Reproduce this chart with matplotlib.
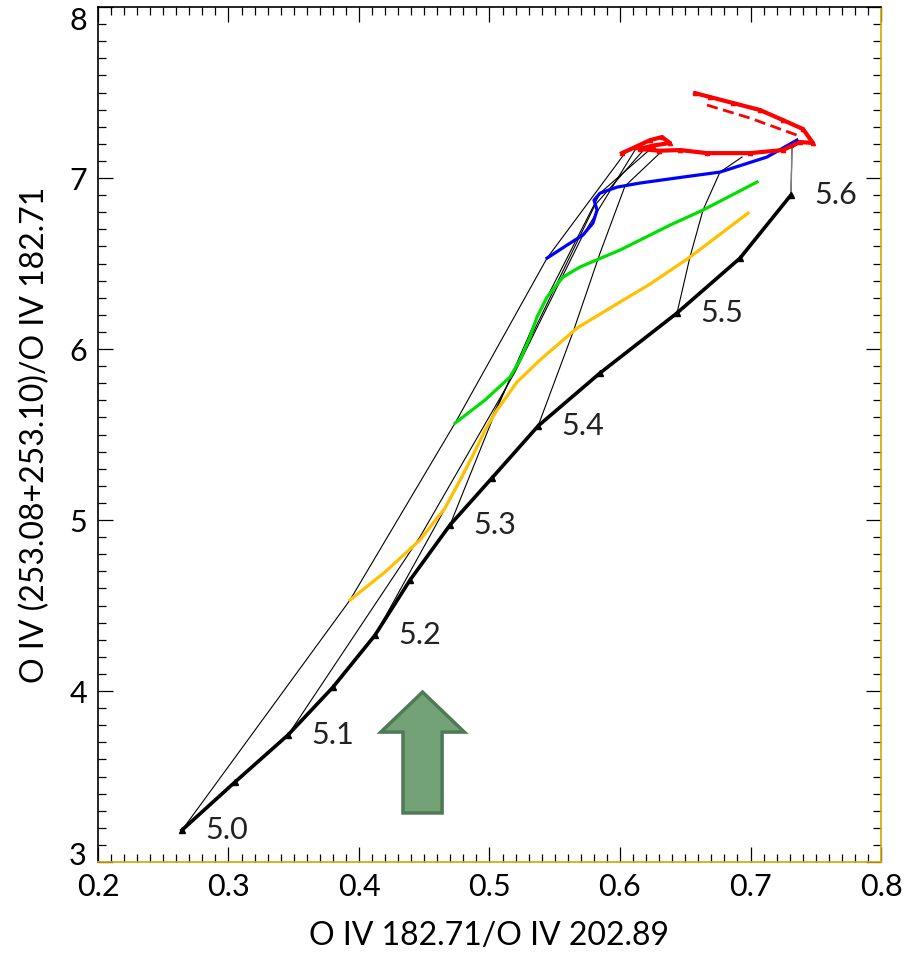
import matplotlib
matplotlib.use("Agg")
import matplotlib.pyplot as plt
from matplotlib.patches import FancyArrow
from matplotlib.ticker import MultipleLocator
from matplotlib.transforms import ScaledTranslation

plt.rcParams["font.family"] = ["Lato", "DejaVu Sans"]

# log T labels along the black track
temp_labels = ["5.0", "5.1", "5.2", "5.3", "5.4", "5.5", "5.6"]

# black track (every 0.05 in log T)
black_x = [0.2644, 0.3050, 0.3456, 0.3801, 0.4123, 0.4391, 0.4697,
           0.5019, 0.5372, 0.5847, 0.6437, 0.6920, 0.7310]
black_y = [3.187, 3.468, 3.743, 4.023, 4.327, 4.649, 4.971,
           5.246, 5.550, 5.860, 6.211, 6.532, 6.901]

yellow_x = [0.3931, 0.4199, 0.4467, 0.4659, 0.4774, 0.4874, 0.4966, 0.5057,
            0.5211, 0.5387, 0.5671, 0.6000, 0.6230, 0.6536, 0.6981]
yellow_y = [4.532, 4.696, 4.883, 5.070, 5.234, 5.380, 5.526, 5.643,
            5.807, 5.936, 6.123, 6.275, 6.380, 6.538, 6.795]

green_x = [0.4736, 0.4966, 0.5157, 0.5234, 0.5310, 0.5364, 0.5441,
           0.5563, 0.5693, 0.6000, 0.6383, 0.6636, 0.7050]
green_y = [5.567, 5.702, 5.836, 5.936, 6.070, 6.187, 6.304,
           6.421, 6.480, 6.579, 6.725, 6.813, 6.977]

blue_x = [0.5441, 0.5594, 0.5716, 0.5793, 0.5824, 0.5801, 0.5847,
          0.5977, 0.6153, 0.6483, 0.6766, 0.7126, 0.7356]
blue_y = [6.532, 6.608, 6.667, 6.737, 6.813, 6.871, 6.912,
          6.947, 6.971, 7.006, 7.035, 7.123, 7.222]

red_x = [0.6015, 0.6115, 0.6230, 0.6322, 0.6383, 0.6250, 0.6150, 0.6300,
         0.6460, 0.6667, 0.6996, 0.7249, 0.7379, 0.7479, 0.7402, 0.7249,
         0.7073, 0.6866, 0.6690, 0.6575]
red_y = [7.146, 7.181, 7.222, 7.240, 7.205, 7.190, 7.170, 7.160,
         7.164, 7.146, 7.146, 7.164, 7.211, 7.205, 7.287, 7.339,
         7.398, 7.439, 7.474, 7.497]
red_alt_x = [0.6667, 0.6996, 0.7356]
red_alt_y = [7.427, 7.351, 7.251]

# lines of equal log T joining the tracks (black, yellow, green, blue, red)
iso_x = [
    [0.2644, 0.3931, 0.4736, 0.5441, 0.6038],
    [0.3456, 0.4467, 0.5195, 0.5716, 0.6115],
    [0.4123, 0.4789, 0.5287, 0.5808, 0.6207],
    [0.4697, 0.5042, 0.5364, 0.5847, 0.6268],
    [0.5372, 0.5640, 0.5847, 0.6038, 0.6330],
    [0.6437, 0.6536, 0.6636, 0.6766, 0.6935],
    [0.7310, 0.7318, 0.7379],
]
iso_y = [
    [3.187, 4.532, 5.567, 6.532, 7.146],
    [3.743, 4.901, 5.865, 6.667, 7.164],
    [4.327, 5.246, 6.023, 6.842, 7.187],
    [4.971, 5.626, 6.187, 6.912, 7.193],
    [5.550, 6.099, 6.561, 6.953, 7.164],
    [6.211, 6.538, 6.813, 7.035, 7.123],
    [6.901, 7.175, 7.211],
]

# big green arrow (data units)
arrow_x, arrow_y0, arrow_len = 0.4487, 3.287, 0.707
arrow_w, arrow_head_w, arrow_head_len = 0.030, 0.064, 0.234

fig = plt.figure(figsize=(9.14, 9.59), dpi=100)
ax = fig.add_axes([0.1072, 0.1011, 0.8567, 0.8915])

for xs, ys in zip(iso_x, iso_y):
    ax.plot(xs, ys, color="black", lw=0.8, zorder=2)
ax.plot(iso_x[-1][:2], iso_y[-1][:2], color="grey", lw=1.0, zorder=2)

ax.plot(yellow_x, yellow_y, color="#FFC000", lw=2.3, zorder=3)
ax.plot(green_x, green_y, color="#00E000", lw=2.3, zorder=3)
ax.plot(blue_x, blue_y, color="#0000FF", lw=2.3, zorder=3)
ax.plot(red_x, red_y, color="#FF0000", lw=3.0, marker="^", ms=3, zorder=3)
ax.plot(red_alt_x, red_alt_y, color="#FF0000", lw=2.0, ls=(0, (4, 2)), zorder=3)
ax.plot(black_x, black_y, color="black", lw=2.6, marker="^", ms=5, zorder=4)

for i, lab in enumerate(temp_labels):
    ax.annotate(lab, (black_x[2 * i], black_y[2 * i]), xytext=(17, 0),
                textcoords="offset points", ha="left", va="center",
                fontsize=22, color="#222222")

ax.add_patch(FancyArrow(arrow_x, arrow_y0, 0, arrow_len, width=arrow_w,
                        head_width=arrow_head_w, head_length=arrow_head_len,
                        length_includes_head=True, facecolor="#72A276",
                        edgecolor="#507A56", lw=2.5, zorder=5))

ax.set_xlim(0.2, 0.8)
ax.set_ylim(3, 8)
ax.xaxis.set_major_locator(MultipleLocator(0.1))
ax.xaxis.set_minor_locator(MultipleLocator(0.01))
ax.yaxis.set_major_locator(MultipleLocator(1))
ax.yaxis.set_minor_locator(MultipleLocator(0.1))
ax.tick_params(which="both", direction="in", top=True, right=True,
               width=0.9, labelsize=22)
ax.tick_params(which="major", length=11, pad=8)
ax.tick_params(which="minor", length=6)
ax.set_xticklabels([f"{v:.1f}" for v in ax.get_xticks()])
ax.set_yticks(range(3, 9))
ylabs = ax.set_yticklabels([str(v) for v in range(3, 9)])
ylabs[0].set_transform(ylabs[0].get_transform()
                       + ScaledTranslation(0, 0.09, fig.dpi_scale_trans))
ylabs[-1].set_va("top")
for s in ax.spines.values():
    s.set_linewidth(1.2)
ax.spines["bottom"].set_color("#D4A800")
ax.spines["right"].set_color("#D4A800")

ax.set_xlabel("O IV 182.71/O IV 202.89", fontsize=23, labelpad=14)
ax.set_ylabel("O IV (253.08+253.10)/O IV 182.71", fontsize=23, labelpad=14)

fig.savefig("out.png", dpi=100)
